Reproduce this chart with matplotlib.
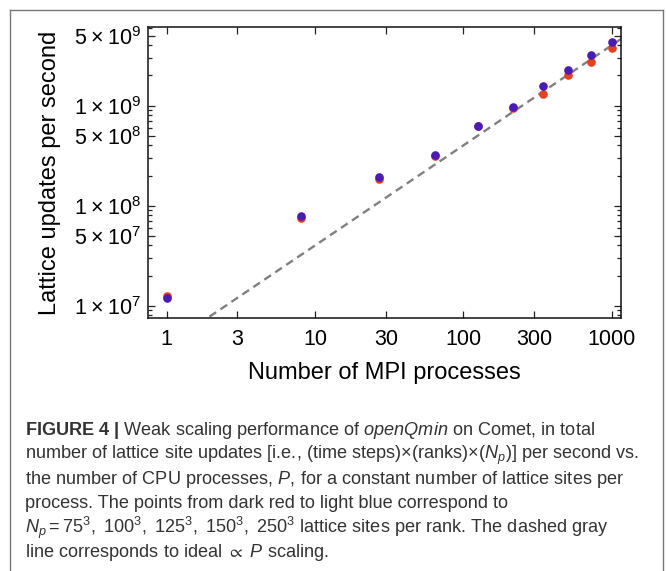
import matplotlib
matplotlib.use("Agg")
import matplotlib.pyplot as plt
from matplotlib import font_manager
from matplotlib.lines import Line2D
from matplotlib.ticker import FixedLocator, NullFormatter
import numpy as np

# weak scaling data
procs = [1, 8, 27, 64, 125, 216, 343, 512, 729, 1000]
rate_75 = [1.24e7, 7.5e7, 1.86e8, 3.15e8, 6.2e8, 9.5e8, 1.30e9, 2.01e9, 2.73e9, 3.73e9]
rate_250 = [1.19e7, 7.83e7, 1.93e8, 3.18e8, 6.24e8, 9.57e8, 1.57e9, 2.25e9, 3.21e9, 4.36e9]
ideal_coef = 4.0e6
ideal_procs = [0.7, 1200]

x_ticks = [1, 3, 10, 30, 100, 300, 1000]
x_ticklabels = ["1", "3", "10", "30", "100", "300", "1000"]
y_ticks = [1e7, 5e7, 1e8, 5e8, 1e9, 5e9]
y_ticklabels = ["1\u2009×\u200910$^{7}$", "5\u2009×\u200910$^{7}$", "1\u2009×\u200910$^{8}$",
                "5\u2009×\u200910$^{8}$", "1\u2009×\u200910$^{9}$", "5\u2009×\u200910$^{9}$"]

caption = [
    r"$\mathbf{FIGURE\ 4\ |}$ Weak scaling performance of $\mathit{openQmin}$ on Comet, in total",
    r"number of lattice site updates [i.e., (time steps)×(ranks)×($N_p$)] per second vs.",
    r"the number of CPU processes, $P$, for a constant number of lattice sites per",
    r"process. The points from dark red to light blue correspond to",
    r"$N_p = 75^3,\ 100^3,\ 125^3,\ 150^3,\ 250^3$ lattice sites per rank. The dashed gray",
    r"line corresponds to ideal ${\propto}\ P$ scaling.",
]

RED = "#e8401f"
BLUE = "#4a1cb4"

names = {f.name for f in font_manager.fontManager.ttflist}
cap_font = "Liberation Sans Narrow" if "Liberation Sans Narrow" in names else "Liberation Sans"

plt.rcParams["font.family"] = ["Liberation Sans", "DejaVu Sans"]
plt.rcParams["mathtext.fontset"] = "custom"
plt.rcParams["mathtext.rm"] = cap_font
plt.rcParams["mathtext.it"] = cap_font + ":italic"
plt.rcParams["mathtext.bf"] = cap_font + ":bold"
plt.rcParams["mathtext.fallback"] = "stixsans"

W, H = 666, 571
fig = plt.figure(figsize=(W / 100, H / 100), dpi=100)
ax = fig.add_axes([148 / W, 1 - 318 / H, (621 - 148) / W, (318 - 27) / H])

ax.plot(np.array(ideal_procs), ideal_coef * np.array(ideal_procs),
        ls=(0, (3.4, 2.2)), color="#808080", lw=1.7, zorder=2)
ax.plot(procs, rate_75, "o", ms=6.2, color=RED, mec="none", zorder=3)
ax.plot(procs, rate_250, "o", ms=6.2, color=BLUE, mec="none", zorder=4)

ax.set_xscale("log")
ax.set_yscale("log")
ax.set_xlim(0.748, 1157)
ax.set_ylim(7.54e6, 6.1e9)

ax.xaxis.set_major_locator(FixedLocator(x_ticks))
ax.set_xticklabels(x_ticklabels)
ax.xaxis.set_minor_locator(FixedLocator([]))
ax.yaxis.set_major_locator(FixedLocator(y_ticks))
ax.set_yticklabels(y_ticklabels)
minors = [m * 10.0 ** e for e in range(6, 10) for m in (2, 3, 4, 6, 7, 8, 9)]
ax.yaxis.set_minor_locator(FixedLocator(minors))
ax.yaxis.set_minor_formatter(NullFormatter())

ax.tick_params(which="both", direction="in", top=True, right=True,
               width=0.9, colors="#222222", labelcolor="black")
ax.tick_params(which="major", length=5, labelsize=15.5)
ax.tick_params(axis="x", which="major", pad=8)
ax.tick_params(axis="y", which="major", pad=5)
ax.tick_params(which="minor", length=3)
for s in ax.spines.values():
    s.set_linewidth(1.1)
    s.set_color("#111111")

ax.set_xlabel("Number of MPI processes", fontsize=17)
ax.set_ylabel("Lattice updates per second", fontsize=17)
ax.xaxis.set_label_coords(0.5, (318 - 362) / 291)
ax.yaxis.set_label_coords((61 - 148) / 473, 0.5)

# frame around the panel (open at the bottom)
frame = dict(color="#777777", lw=1.0, transform=fig.transFigure)
fig.add_artist(Line2D([10 / W, 10 / W], [0, 1 - 10 / H], **frame))
fig.add_artist(Line2D([663 / W, 663 / W], [0, 1 - 10 / H], **frame))
fig.add_artist(Line2D([10 / W, 663 / W], [1 - 10 / H, 1 - 10 / H], **frame))

# caption, sized so the widest line spans the same width as the original
texts = []
for i, line in enumerate(caption):
    t = fig.text(25 / W, 1 - (435 + 24.4 * i) / H, line, fontsize=13,
                 family=[cap_font, "DejaVu Sans"], color="#333333",
                 ha="left", va="baseline")
    texts.append(t)
renderer = fig.canvas.get_renderer()
wide = texts[1].get_window_extent(renderer).width
size = 13 * (637 - 25) / wide
for t in texts:
    t.set_fontsize(size)

fig.savefig("out.png", dpi=100, facecolor="white")
